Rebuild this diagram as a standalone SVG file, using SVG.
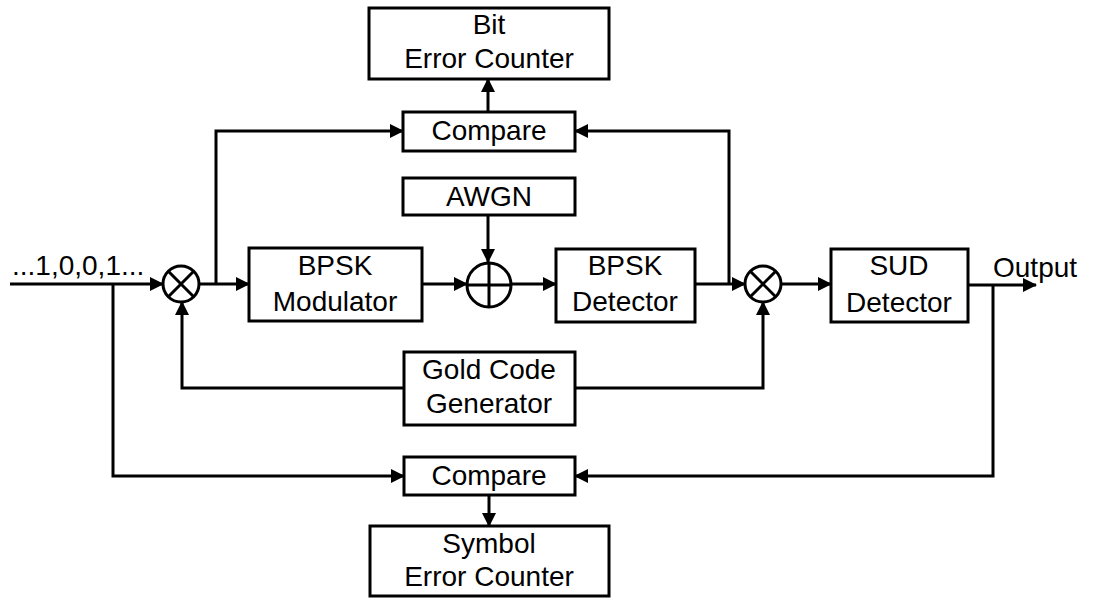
<svg xmlns="http://www.w3.org/2000/svg" width="1095" height="598" viewBox="0 0 1095 598">
  <style>
    .box { fill: #fff; stroke: #000; stroke-width: 3; }
    .wire { fill: none; stroke: #000; stroke-width: 3; }
    .op { fill: #fff; stroke: #000; stroke-width: 3; }
    .opline { stroke: #000; stroke-width: 3; }
    text { font-family: "Liberation Sans", Arial, sans-serif; font-size: 28px; fill: #000; }
    .c { text-anchor: middle; }
  </style>
  <defs>
    <marker id="arrow" markerUnits="userSpaceOnUse" markerWidth="14" markerHeight="14" refX="13" refY="7" orient="auto">
      <path d="M0,0 L14,7 L0,14 Z" fill="#000"/>
    </marker>
  </defs>
  <rect width="1095" height="598" fill="#fff"/>

  <!-- signal paths -->
  <g id="connectors" class="wire" marker-end="url(#arrow)">
    <path d="M10,284 H163"/>
    <path d="M199,284 H249"/>
    <path d="M216,284 V131 H403"/>
    <path d="M422,284 H467"/>
    <path d="M488,215 V262"/>
    <path d="M511,284 H556"/>
    <path d="M695,284 H745"/>
    <path d="M729,284 V131 H575"/>
    <path d="M781,284 H831"/>
    <path d="M968,285 H1036"/>
    <path d="M993,285 V476 H575"/>
    <path d="M113,284 V476 H404"/>
    <path d="M404,388 H182 V302"/>
    <path d="M575,388 H763 V302"/>
    <path d="M488,112 V79"/>
    <path d="M489,495 V526"/>
  </g>

  <!-- labels on the lines -->
  <text id="input-label" x="12" y="275">...1,0,0,1...</text>
  <text id="output-label" x="993" y="277">Output</text>

  <!-- blocks -->
  <g id="bit-error-counter">
    <rect class="box" x="369" y="8" width="240" height="71"/>
    <text class="c" x="489" y="34">Bit</text>
    <text class="c" x="489" y="68">Error Counter</text>
  </g>
  <g id="compare-bit">
    <rect class="box" x="403" y="112" width="172" height="39"/>
    <text class="c" x="489" y="140">Compare</text>
  </g>
  <g id="awgn">
    <rect class="box" x="403" y="178" width="172" height="37"/>
    <text class="c" x="489" y="206">AWGN</text>
  </g>
  <g id="bpsk-modulator">
    <rect class="box" x="249" y="248" width="173" height="73"/>
    <text class="c" x="335" y="275">BPSK</text>
    <text class="c" x="335" y="311">Modulator</text>
  </g>
  <g id="bpsk-detector">
    <rect class="box" x="556" y="249" width="139" height="73"/>
    <text class="c" x="625" y="275">BPSK</text>
    <text class="c" x="625" y="311">Detector</text>
  </g>
  <g id="sud-detector">
    <rect class="box" x="831" y="249" width="137" height="73"/>
    <text class="c" x="899" y="275">SUD</text>
    <text class="c" x="899" y="312">Detector</text>
  </g>
  <g id="gold-code-generator">
    <rect class="box" x="404" y="352" width="171" height="73"/>
    <text class="c" x="489" y="379">Gold Code</text>
    <text class="c" x="489" y="413">Generator</text>
  </g>
  <g id="compare-symbol">
    <rect class="box" x="404" y="457" width="171" height="38"/>
    <text class="c" x="489" y="485">Compare</text>
  </g>
  <g id="symbol-error-counter">
    <rect class="box" x="370" y="526" width="239" height="70"/>
    <text class="c" x="489" y="553">Symbol</text>
    <text class="c" x="489" y="586">Error Counter</text>
  </g>

  <!-- spreading multiplier -->
  <g id="mixer-spread">
    <circle class="op" cx="181" cy="284" r="18"/>
    <path class="opline" d="M168.3,271.3 L193.7,296.7 M193.7,271.3 L168.3,296.7"/>
  </g>
  <!-- noise adder -->
  <g id="adder">
    <circle class="op" cx="489" cy="285" r="22"/>
    <path class="opline" d="M467,285 H511 M489,263 V307"/>
  </g>
  <!-- despreading multiplier -->
  <g id="mixer-despread">
    <circle class="op" cx="763" cy="284" r="18"/>
    <path class="opline" d="M750.3,271.3 L775.7,296.7 M775.7,271.3 L750.3,296.7"/>
  </g>
</svg>
